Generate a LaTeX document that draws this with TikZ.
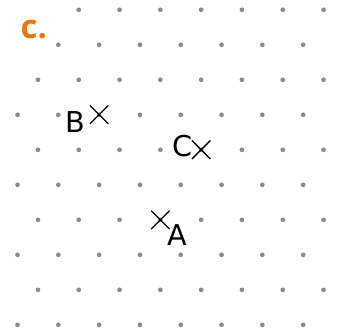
\documentclass[tikz,border=0pt]{standalone}
\usepackage{fontspec}
\setmainfont{DejaVu Sans}
\newfontfamily\partfont{Open Sans}
\usetikzlibrary{shapes.misc}
\definecolor{partorange}{RGB}{232,119,14}
\definecolor{dotgray}{RGB}{140,140,140}
\tikzset{
  griddot/.style={fill=dotgray},
  ptmark/.style={cross out, draw=black, line width=0.9pt, minimum size=0.42cm, inner sep=0pt},
  ptlabel/.style={inner sep=0pt, font=\fontsize{20}{24}\selectfont}
}

\begin{document}
\begin{tikzpicture}
	\useasboundingbox (0,0) rectangle (8.26,8.11);

	% isometric dot grid
	\foreach \r in {0,...,9}
		\foreach \k in {0,...,7}{
			\pgfmathsetmacro{\xx}{0.43+0.5*(1-mod(\r,2))+\k}
			\pgfmathsetmacro{\yy}{7.87-0.858*\r}
			\pgfmathtruncatemacro{\hideit}{and(\r<2,\k==0)}
			\ifnum\hideit=0
				\fill[griddot] (\xx,\yy) circle (0.058);
			\fi
		}

	\node[font=\partfont\bfseries\fontsize{23}{27}\selectfont, text=partorange, inner sep=0pt] (part) at (0.83,7.39) {c.};

	\node[ptmark] (B) at (2.43,5.30) {};
	\node[ptmark] (C) at (4.93,4.44) {};
	\node[ptmark] (A) at (3.93,2.72) {};

	\node[ptlabel, anchor=east] (labB) at ([shift={(-0.33,-0.18)}]B.center) {B};
	\node[ptlabel, anchor=east] (labC) at ([shift={(-0.20,0.09)}]C.center) {C};
	\node[ptlabel, anchor=west] (labA) at ([shift={(0.17,-0.36)}]A.center) {A};
\end{tikzpicture}
\end{document}
